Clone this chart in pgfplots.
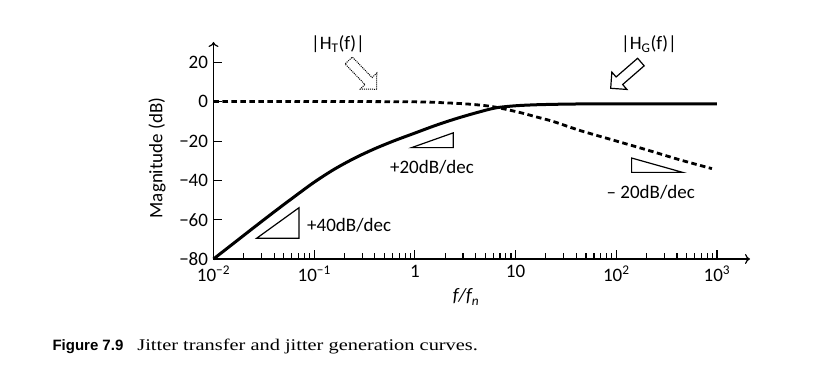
\documentclass[border=0pt]{standalone}
\usepackage{fontspec}
\setmainfont{Carlito}
\newfontfamily\capserif[FakeStretch=1.25]{Liberation Serif}
\newfontfamily\capsans{Liberation Sans}
\usepackage{pgfplots}
\pgfplotsset{compat=1.18}
\usetikzlibrary{arrows.meta}
\newcommand\cf{\fontsize{19bp}{22bp}\selectfont}
\begin{document}
\begin{tikzpicture}[font=\cf]
\useasboundingbox (0,0) rectangle (823bp,374bp);
\begin{axis}[
  at={(213.5bp,115bp)}, anchor=south west,
  scale only axis, width=536.5bp, height=217bp,
  xmode=log, xmin=0.01, xmax=2128, ymin=-80, ymax=30.46,
  axis lines=left,
  axis line style={line width=1.2bp, -{To[length=5bp,width=10bp]}},
  tick align=inside,
  xtick={0.01,0.1,1,10,100,1000},
  xticklabels={10\textsuperscript{−2},10\textsuperscript{−1},1,10,10\textsuperscript{2},10\textsuperscript{3}},
  minor xtick={0.02,0.03,0.04,0.05,0.06,0.07,0.08,0.09,
               0.2,0.3,0.4,0.5,0.6,0.7,0.8,0.9,
               2,3,4,5,6,7,8,9,
               20,30,40,50,60,70,80,90,
               200,300,400,500,600,700,800,900},
  ytick={-80,-60,-40,-20,0,20},
  yticklabels={−80,−60,−40,−20,0,20},
  major tick length=9bp, minor tick length=6bp,
  xtick style={black, line width=1.2bp},
  ytick style={black, line width=1.2bp},
  every tick label/.append style={font=\cf},
  yticklabel style={xshift=-2bp},
  xticklabel style={yshift=-3bp},
  clip=false,
]
\addplot[black, line width=3bp, smooth] coordinates {
 (0.01,-80) (0.01585,-72) (0.02512,-64) (0.03981,-56.1) (0.06310,-48.4)
 (0.1,-40.9) (0.1585,-34.3) (0.2512,-28.7) (0.3981,-23.9) (0.6310,-19.7)
 (1,-15.9) (1.585,-12.1) (2.512,-8.7) (3.981,-5.7) (6.310,-3.1)
 (10,-2.0) (15.85,-1.5) (25.12,-1.25) (39.81,-1.1)
 (100,-1.0) (1000,-1.0)};
\addplot[black, line width=2.8bp, dash pattern=on 5.5bp off 3.5bp, smooth] coordinates {
 (0.01,0.2) (0.1,0.2) (1,0) (1.995,-0.5) (3.524,-1.2) (5.998,-2.5)
 (10.96,-5.4) (15.85,-7.6) (23.66,-10.0) (43.65,-14.6) (93.33,-19.5)
 (199.5,-24.4) (426.6,-29.5) (891.3,-34.0)};
% slope triangles
\draw[line width=1.2bp] (axis cs:0.0269,-69.4) -- (axis cs:0.0706,-69.4) -- (axis cs:0.0706,-53.9) -- cycle;
\draw[line width=1.2bp] (axis cs:0.929,-23.3) -- (axis cs:2.40,-23.3) -- (axis cs:2.40,-15.8) -- cycle;
\draw[line width=1.2bp] (axis cs:142,-28.6) -- (axis cs:142,-35.9) -- (axis cs:456,-35.9) -- cycle;
\node[anchor=west, inner sep=0pt] at (axis cs:0.0849,-63) {+40dB/dec};
\node[inner sep=0pt] at (axis cs:1.48,-33.2) {+20dB/dec};
\node[inner sep=0pt] at (axis cs:220,-45.9) {– 20dB/dec};
\end{axis}
% axis labels
\node[rotate=90, inner sep=0pt] at (157bp,216bp) {Magnitude (dB)};
\node[inner sep=0pt] at (466bp,77bp) {\itshape f/f\textsubscript{n}};
% curve labels
\node[inner sep=0pt] at (338bp,330bp) {|H\textsubscript{T}(f)|};
\node[inner sep=0pt] at (649bp,330bp) {|H\textsubscript{G}(f)|};
% block arrows
\begin{scope}[shift={(376.5bp,284.7bp)}, rotate=-46, x=1bp, y=1bp]
 \draw[line width=1bp, densely dotted, fill=white] (0,0) -- (-11.5,11.5) -- (-11.5,5) -- (-40,5) -- (-40,-5) -- (-11.5,-5) -- (-11.5,-11.5) -- cycle;
\end{scope}
\begin{scope}[shift={(610.7bp,285.7bp)}, rotate=221, x=1bp, y=1bp]
 \draw[line width=1.2bp, fill=white] (0,0) -- (-11.5,11.5) -- (-11.5,5) -- (-40,5) -- (-40,-5) -- (-11.5,-5) -- (-11.5,-11.5) -- cycle;
\end{scope}
% caption
\node[anchor=base west, inner sep=0pt] at (52.3bp,23.3bp)
 {\capsans\bfseries\fontsize{15bp}{18bp}\selectfont Figure 7.9\hspace{14bp}\capserif\mdseries\fontsize{16.3bp}{19bp}\selectfont Jitter transfer and jitter generation curves.};
\end{tikzpicture}
\end{document}
